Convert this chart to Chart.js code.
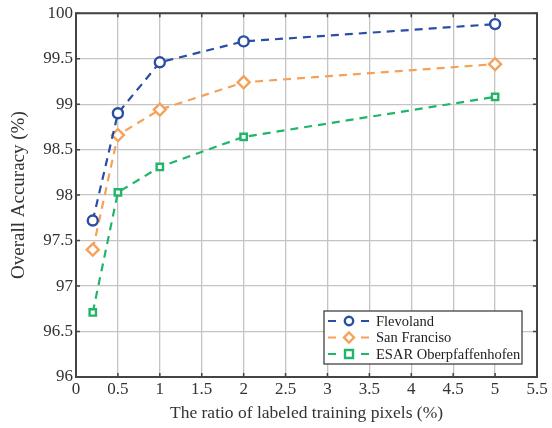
<!DOCTYPE html>
<html>
<head>
<meta charset="utf-8">
<script src="https://cdn.jsdelivr.net/npm/chart.js@4/dist/chart.umd.min.js"></script>
<style>
html,body{margin:0;padding:0;background:#fff;}
#wrap{width:552px;height:428px;}
</style>
</head>
<body>
<div id="wrap"><canvas id="c" width="552" height="428"></canvas></div>
<script>
const xValues = [0.2, 0.5, 1, 2, 5];
const seriesNames = ["Flevoland", "San Franciso", "ESAR Oberpfaffenhofen"];
const flevoland = [97.72, 98.90, 99.46, 99.69, 99.88];
const sanFrancisco = [97.40, 98.66, 98.94, 99.24, 99.44];
const esar = [96.71, 98.03, 98.31, 98.64, 99.08];
const xTitle = "The ratio of labeled training pixels (%)";
const yTitle = "Overall Accuracy (%)";

const colors = ["#2a4ea6", "#f4a259", "#22b468"];
const styles = ["circle", "rectRot", "rect"];
const radii = [5, 6, 4.5];
const allSeries = [flevoland, sanFrancisco, esar];

const FONT = "'Liberation Serif', 'Times New Roman', serif";
const fmt = v => String(+Number(v).toFixed(2));

const datasets = allSeries.map((vals, i) => ({
  label: seriesNames[i],
  data: xValues.map((x, j) => ({x: x, y: vals[j]})),
  borderColor: colors[i],
  backgroundColor: "#ffffff",
  borderWidth: 2.2,
  borderDash: [8, 6],
  pointStyle: styles[i],
  pointRadius: radii[i],
  pointBorderWidth: 2.4,
  pointBackgroundColor: "#ffffff",
  pointBorderColor: colors[i],
  tension: 0,
  fill: false
}));

const framePlugin = {
  id: 'frame',
  afterDatasetsDraw(chart) {
    const ctx = chart.ctx;
    const a = chart.chartArea;
    const xs = chart.scales.x, ys = chart.scales.y;
    ctx.save();
    ctx.strokeStyle = "#444";
    ctx.lineWidth = 2;
    ctx.strokeRect(a.left, a.top, a.right - a.left, a.bottom - a.top);
    ctx.lineWidth = 1.5;
    ctx.beginPath();
    xs.ticks.forEach(t => {
      const px = xs.getPixelForValue(t.value);
      ctx.moveTo(px, a.bottom); ctx.lineTo(px, a.bottom - 4);
      ctx.moveTo(px, a.top); ctx.lineTo(px, a.top + 4);
    });
    ys.ticks.forEach(t => {
      const py = ys.getPixelForValue(t.value);
      ctx.moveTo(a.left, py); ctx.lineTo(a.left + 4, py);
      ctx.moveTo(a.right, py); ctx.lineTo(a.right - 4, py);
    });
    ctx.stroke();

    // legend
    const lx = 324, ly = 311, lw = 198, lh = 53;
    ctx.fillStyle = "#fff";
    ctx.fillRect(lx, ly, lw, lh);
    ctx.strokeStyle = "#333";
    ctx.lineWidth = 1.2;
    ctx.strokeRect(lx, ly, lw, lh);
    ctx.font = "14.5px " + FONT;
    ctx.textBaseline = "middle";
    chart.data.datasets.forEach((ds, i) => {
      const cy = ly + 10 + i * 16.5;
      ctx.strokeStyle = ds.borderColor;
      ctx.lineWidth = 2.2;
      ctx.setLineDash([]);
      ctx.beginPath();
      ctx.moveTo(lx + 4, cy); ctx.lineTo(lx + 12, cy);
      ctx.moveTo(lx + 37, cy); ctx.lineTo(lx + 45, cy);
      ctx.stroke();
      ctx.fillStyle = "#fff";
      ctx.strokeStyle = ds.borderColor;
      ctx.lineWidth = 2.4;
      ctx.beginPath();
      if (ds.pointStyle === 'circle') {
        ctx.arc(lx + 25, cy, 4.2, 0, Math.PI * 2);
      } else if (ds.pointStyle === 'rectRot') {
        ctx.moveTo(lx + 25, cy - 5); ctx.lineTo(lx + 30, cy); ctx.lineTo(lx + 25, cy + 5); ctx.lineTo(lx + 20, cy); ctx.closePath();
      } else {
        ctx.rect(lx + 21, cy - 4, 8, 8);
      }
      ctx.fill(); ctx.stroke();
      ctx.fillStyle = "#222";
      ctx.fillText(ds.label, lx + 52, cy + 1);
    });
    ctx.restore();
  }
};

new Chart(document.getElementById('c'), {
  type: 'line',
  data: { datasets: datasets },
  options: {
    responsive: false,
    animation: false,
    devicePixelRatio: 1,
    layout: { padding: { top: 13, right: 15, left: 4, bottom: 0 } },
    plugins: { legend: { display: false }, tooltip: { enabled: false } },
    scales: {
      x: {
        type: 'linear',
        min: 0, max: 5.5,
        ticks: { stepSize: 0.5, color: "#333", font: { family: FONT, size: 17 }, padding: 2, maxRotation: 0, callback: fmt },
        grid: { color: "#c4c4c4", lineWidth: 1.3, drawTicks: false },
        border: { display: false },
        title: { display: true, text: xTitle, color: "#333", font: { family: FONT, size: 17.5 }, padding: { top: 0 } },
        afterFit(s) { s.height = 51; }
      },
      y: {
        min: 96, max: 100,
        ticks: { stepSize: 0.5, color: "#333", font: { family: FONT, size: 17 }, padding: 3, callback: fmt },
        grid: { color: "#c4c4c4", lineWidth: 1.3, drawTicks: false },
        border: { display: false },
        title: { display: true, text: yTitle, color: "#333", font: { family: FONT, size: 19 }, padding: { bottom: 4 } },
        afterFit(s) { s.width = 72; }
      }
    }
  },
  plugins: [framePlugin]
});
</script>
</body>
</html>
